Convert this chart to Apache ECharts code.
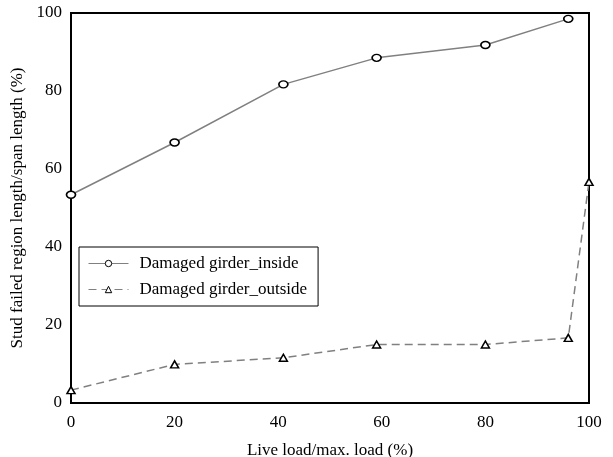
<!DOCTYPE html>
<html>
<head>
<meta charset="utf-8">
<script src="https://cdn.jsdelivr.net/npm/echarts@6/dist/echarts.min.js"></script>
<style>html,body{margin:0;padding:0;background:#fff;}#c{width:613px;height:457px;}</style>
</head>
<body>
<div id="c"></div>
<script>
const insideX = [0, 20, 41, 59, 80, 96];
const insideY = [53.4, 66.8, 81.7, 88.5, 91.8, 98.5];
const outsideX = [0, 20, 41, 59, 80, 96, 100];
const outsideY = [3.3, 9.9, 11.6, 15.0, 15.0, 16.7, 56.7];
const xTicks = [0, 20, 40, 60, 80, 100];
const yTicks = [0, 20, 40, 60, 80, 100];
const seriesNames = ['Damaged girder_inside', 'Damaged girder_outside'];

const font = 'Liberation Serif';
const zip = (xs, ys) => xs.map((x, i) => [x, ys[i]]);

const chart = echarts.init(document.getElementById('c'), null, {renderer: 'canvas'});
chart.setOption({
  animation: false,
  backgroundColor: '#fff',
  grid: {left: 71, right: 24, top: 13, bottom: 54, show: true, borderColor: '#000', borderWidth: 2,
         backgroundColor: 'transparent', containLabel: false, outerBoundsMode: 'none'},
  xAxis: {
    type: 'value', min: xTicks[0], max: xTicks[xTicks.length-1], interval: 20,
    name: 'Live load/max. load (%)', nameLocation: 'middle', nameGap: 39,
    nameTextStyle: {fontFamily: font, fontSize: 17, color: '#000'},
    axisLine: {show: false}, axisTick: {show: false}, splitLine: {show: false},
    axisLabel: {fontFamily: font, fontSize: 17, color: '#000', margin: 11}
  },
  yAxis: {
    type: 'value', min: yTicks[0], max: yTicks[yTicks.length-1], interval: 20,
    name: 'Stud failed region length/span length (%)', nameLocation: 'middle', nameGap: 37,
    nameTextStyle: {fontFamily: font, fontSize: 17, color: '#000'},
    axisLine: {show: false}, axisTick: {show: false}, splitLine: {show: false},
    axisLabel: {fontFamily: font, fontSize: 17, color: '#000', margin: 9}
  },
  legend: {
    left: 79, top: 247, orient: 'vertical',
    padding: [8, 11, 8, 9], itemGap: 9,
    borderColor: '#000', borderWidth: 1, backgroundColor: '#fff',
    itemWidth: 40, itemHeight: 8,
    textStyle: {fontFamily: font, fontSize: 17, color: '#000', padding: [0, 0, 0, 6]},
    data: [
      {name: seriesNames[0], lineStyle: {width: 1}, itemStyle: {borderWidth: 1}},
      {name: seriesNames[1], lineStyle: {width: 1}, itemStyle: {borderWidth: 1}}
    ]
  },
  series: [
    {
      name: seriesNames[0], type: 'line', data: zip(insideX, insideY),
      symbol: 'circle', symbolSize: [9, 7],
      lineStyle: {color: '#808080', width: 1.5, type: 'solid'},
      itemStyle: {color: '#fff', borderColor: '#000', borderWidth: 1.5}
    },
    {
      name: seriesNames[1], type: 'line', data: zip(outsideX, outsideY),
      symbol: 'triangle', symbolSize: [8, 7],
      lineStyle: {color: '#808080', width: 1.5, type: [8, 5]},
      itemStyle: {color: '#fff', borderColor: '#000', borderWidth: 1.5}
    }
  ]
});
</script>
</body>
</html>
